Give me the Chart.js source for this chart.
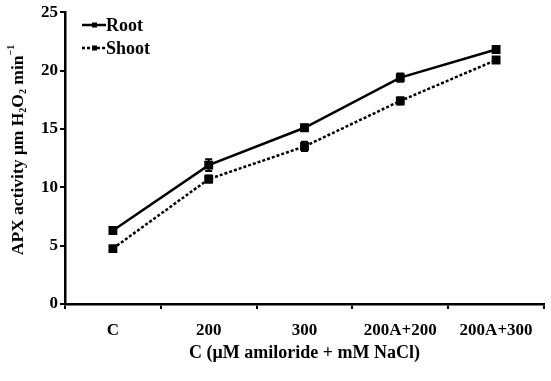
<!DOCTYPE html>
<html>
<head>
<meta charset="utf-8">
<script src="https://cdn.jsdelivr.net/npm/chart.js@4.4.1/dist/chart.umd.min.js"></script>
<style>
  html, body { margin: 0; padding: 0; background: #fff; }
  #apxChart { display: block; }
</style>
</head>
<body>
<canvas id="apxChart" width="551" height="381"></canvas>
<script>
// dati
var categorie = ['C', '200', '300', '200A+200', '200A+300'];
var radice = [6.3, 11.9, 15.1, 19.4, 21.8];
var radiceErr = [0.15, 0.5, 0.25, 0.35, 0.15];
var germoglio = [4.75, 10.7, 13.5, 17.4, 20.9];
var germoglioErr = [0.1, 0.3, 0.4, 0.3, 0.1];
var yTicks = [0, 5, 10, 15, 20, 25];

var fontSerif = '"Liberation Serif", "Times New Roman", serif';

// barre di errore disegnate con le scale del grafico
var errorBars = {
    id: 'errorBars',
    afterDatasetsDraw: function(chart) {
        var ctx = chart.ctx;
        var xs = chart.scales.x, ys = chart.scales.y;
        chart.data.datasets.forEach(function(ds) {
            ctx.save();
            ctx.strokeStyle = '#000';
            ctx.lineWidth = 2;
            ds.data.forEach(function(v, i) {
                var e = ds.errors[i];
                var x = xs.getPixelForValue(i);
                var yT = ys.getPixelForValue(v + e);
                var yB = ys.getPixelForValue(v - e);
                ctx.beginPath();
                ctx.moveTo(x, yT); ctx.lineTo(x, yB);
                ctx.moveTo(x - 3.5, yT); ctx.lineTo(x + 3.5, yT);
                ctx.moveTo(x - 3.5, yB); ctx.lineTo(x + 3.5, yB);
                ctx.stroke();
            });
            ctx.restore();
        });
    }
};

// legenda e titolo asse y
var extraText = {
    id: 'extraText',
    afterDraw: function(chart) {
        var ctx = chart.ctx;
        ctx.save();
        ctx.fillStyle = '#000';
        ctx.strokeStyle = '#000';
        ctx.lineWidth = 2.5;
        chart.data.datasets.forEach(function(ds, i) {
            var y = 25 + i * 23;
            ctx.setLineDash(ds.borderDash || []);
            ctx.beginPath();
            ctx.moveTo(82, y); ctx.lineTo(106, y);
            ctx.stroke();
            ctx.setLineDash([]);
            ctx.fillRect(92, y - 2.5, 5, 5);
            ctx.font = 'bold 18px ' + fontSerif;
            ctx.textBaseline = 'middle';
            ctx.textAlign = 'left';
            ctx.fillText(ds.label, 106, y + 1);
        });

        // titolo asse y con pedici
        ctx.translate(18, 150);
        ctx.rotate(-Math.PI / 2);
        ctx.textBaseline = 'middle';
        ctx.textAlign = 'left';
        var parts = [
            ['APX activity \u03BCm H', 17.5, 0],
            ['2', 10, 5],
            ['O', 17.5, 0],
            ['2', 10, 5],
            [' min', 17.5, 0],
            ['\u22121', 10, -7]
        ];
        var tot = 0;
        parts.forEach(function(p) {
            ctx.font = 'bold ' + p[1] + 'px ' + fontSerif;
            tot += ctx.measureText(p[0]).width;
        });
        var x = -tot / 2;
        parts.forEach(function(p) {
            ctx.font = 'bold ' + p[1] + 'px ' + fontSerif;
            ctx.fillText(p[0], x, p[2]);
            x += ctx.measureText(p[0]).width;
        });
        ctx.restore();
    }
};

var ctxApx = document.getElementById('apxChart').getContext('2d');
var apxChart = new Chart(ctxApx, {
    type: 'line',
    data: {
        labels: categorie,
        datasets: [
            {
                label: 'Root',
                data: radice,
                errors: radiceErr,
                borderColor: '#000',
                backgroundColor: '#000',
                borderWidth: 2.5,
                pointStyle: 'rect',
                pointRadius: 4.5,
                tension: 0
            },
            {
                label: 'Shoot',
                data: germoglio,
                errors: germoglioErr,
                borderColor: '#000',
                backgroundColor: '#000',
                borderWidth: 2.5,
                borderDash: [3, 2],
                pointStyle: 'rect',
                pointRadius: 4.5,
                tension: 0
            }
        ]
    },
    options: {
        responsive: false,
        animation: false,
        events: [],
        layout: { padding: { top: 11, right: 0, left: 0, bottom: 0 } },
        plugins: {
            legend: { display: false },
            tooltip: { enabled: false }
        },
        scales: {
            x: {
                offset: true,
                grid: {
                    offset: true,
                    drawOnChartArea: false,
                    color: '#000',
                    lineWidth: 2,
                    tickLength: 5,
                    tickWidth: 2
                },
                border: { color: '#000', width: 2.5 },
                ticks: {
                    color: '#000',
                    padding: 11,
                    maxRotation: 0,
                    autoSkip: false,
                    font: { family: fontSerif, size: 17, weight: 'bold' }
                },
                title: {
                    display: true,
                    text: 'C (\u03BCM amiloride + mM NaCl)',
                    color: '#000',
                    padding: { top: 0, bottom: 17 },
                    font: { family: fontSerif, size: 18, weight: 'bold' }
                },
                afterFit: function(scale) { scale.height = 77; }
            },
            y: {
                min: 0,
                max: 25,
                afterBuildTicks: function(scale) {
                    scale.ticks = yTicks.map(function(v) { return { value: v }; });
                },
                grid: {
                    drawOnChartArea: false,
                    color: '#000',
                    lineWidth: 2,
                    tickLength: 5,
                    tickWidth: 2
                },
                border: { color: '#000', width: 2.5 },
                ticks: {
                    color: '#000',
                    padding: 2,
                    font: { family: fontSerif, size: 17, weight: 'bold' }
                },
                afterFit: function(scale) { scale.width = 65; }
            }
        }
    },
    plugins: [errorBars, extraText]
});
</script>
</body>
</html>
